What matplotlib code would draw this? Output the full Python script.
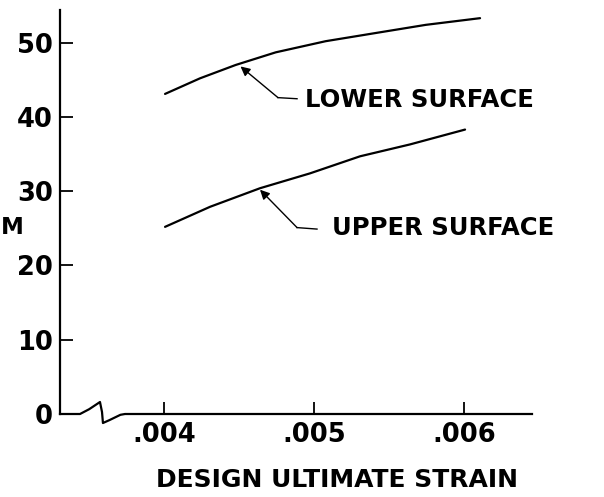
"""
Design ultimate strain chart: lower vs upper surface curves.
"""

import matplotlib.pyplot as plt

plt.rcParams.update({
    "font.family": "DejaVu Sans",
    "font.weight": "bold",
    "figure.dpi": 100,
})

# data
strain_lower = [0.004007, 0.00424, 0.004478, 0.004745, 0.005078, 0.005411,
                0.005745, 0.006107]
value_lower = [43.1, 45.2, 47.0, 48.7, 50.2, 51.3, 52.4, 53.3]

strain_upper = [0.004007, 0.004307, 0.00464, 0.004973, 0.005307, 0.00564,
                0.006007]
value_upper = [25.2, 27.9, 30.4, 32.4, 34.7, 36.3, 38.3]

x_ticks = [0.004, 0.005, 0.006]
x_tick_labels = [".004", ".005", ".006"]
y_ticks = [0, 10, 20, 30, 40, 50]

fig = plt.figure(figsize=(6.04, 4.97))
ax = fig.add_axes([60 / 604, 83 / 497, 472 / 604, 404 / 497])

ax.plot(strain_lower, value_lower, color="black", lw=1.6,
        solid_capstyle="round", solid_joinstyle="round")
ax.plot(strain_upper, value_upper, color="black", lw=1.6,
        solid_capstyle="round", solid_joinstyle="round")

ax.set_xlim(0.0033067, 0.0064533)
ax.set_ylim(0, 54.4)

ax.set_xticks(x_ticks)
ax.set_xticklabels(x_tick_labels)
ax.set_yticks(y_ticks)

ax.tick_params(axis="both", direction="in", length=9, width=1.3,
               labelsize=18.5, colors="black")
ax.tick_params(axis="y", pad=5)
ax.tick_params(axis="x", pad=6)

for side in ["top", "right", "bottom"]:
    ax.spines[side].set_visible(False)
ax.spines["left"].set_linewidth(1.6)

# x axis drawn by hand with the break squiggle near the origin
brk_x = [0, 0.0424, 0.062, 0.0847, 0.089, 0.091, 0.105, 0.128, 0.1377, 1.0]
brk_y = [0, 0, 0.012, 0.0297, 0.005, -0.0223, -0.015, -0.002, 0, 0]
ax.plot(brk_x, brk_y, transform=ax.transAxes, color="black", lw=1.6,
        clip_on=False)

ax.set_xlabel("DESIGN ULTIMATE STRAIN", fontsize=18, fontweight="bold")
ax.xaxis.set_label_coords(0.587, -0.134)
ax.xaxis.label.set_verticalalignment("top")

# left-edge y label fragment
fig.text(0.5 / 604, 1 - 228 / 497, "M", fontsize=16.5, fontweight="bold",
         ha="left", va="center")

# annotations
arrow = dict(arrowstyle="-|>", color="black", lw=1.0, mutation_scale=14,
             shrinkA=0, shrinkB=0)

ax.annotate("", xy=(0.00451, 46.8), xytext=(0.00476, 42.6), arrowprops=arrow)
ax.plot([0.00476, 0.004887], [42.6, 42.45], color="black", lw=1.0)
ax.text(0.00494, 42.3, "LOWER SURFACE", fontsize=17.5, fontweight="bold",
        ha="left", va="center")

ax.annotate("", xy=(0.00464, 30.2), xytext=(0.004887, 25.1), arrowprops=arrow)
ax.plot([0.004887, 0.00502], [25.1, 24.9], color="black", lw=1.0)
ax.text(0.00512, 25.0, "UPPER SURFACE", fontsize=17.5, fontweight="bold",
        ha="left", va="center")

fig.savefig("out.png", dpi=100)
